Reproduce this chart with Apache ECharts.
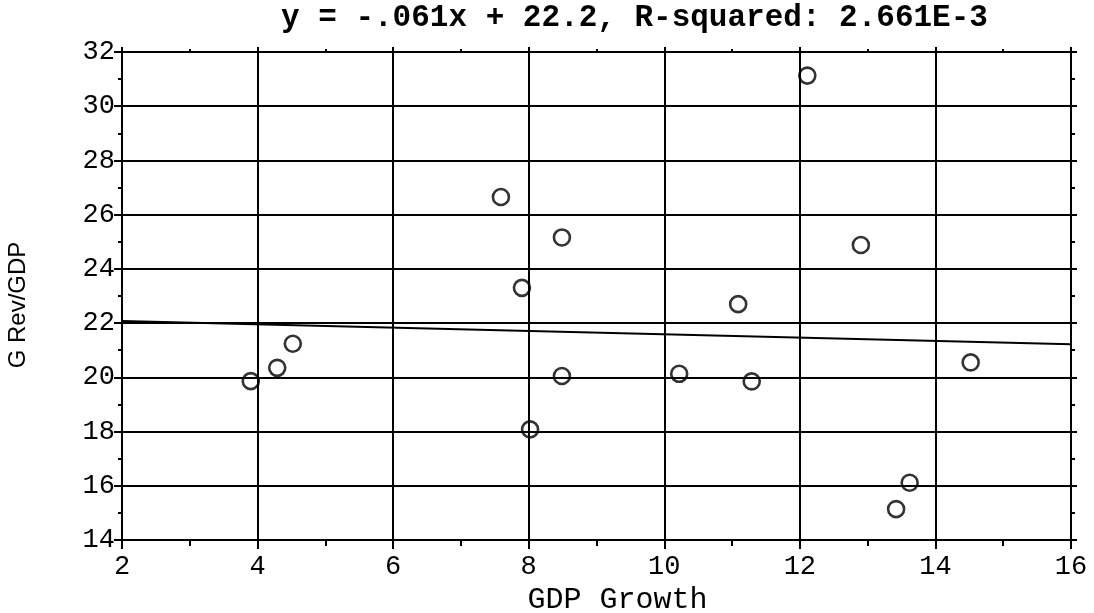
<!DOCTYPE html>
<html>
<head>
<meta charset="utf-8">
<style>
  html, body { margin: 0; padding: 0; background: #fff; }
  #chart { width: 1094px; height: 613px; }
</style>
<script src="https://cdn.jsdelivr.net/npm/echarts@6/dist/echarts.min.js"></script>
</head>
<body>
<div id="chart"></div>
<script>
// GDP growth (%) against government revenue as a share of GDP (%)
const gdpGrowth  = [3.90, 4.29, 4.52, 7.59, 7.90, 8.02, 8.49, 8.49, 10.22, 11.09, 11.29, 12.11, 12.90, 13.42, 13.62, 14.52];
const govRevenue = [19.86, 20.35, 21.24, 26.65, 23.30, 18.08, 25.16, 20.05, 20.13, 22.70, 19.85, 31.13, 24.88, 15.14, 16.11, 20.55];

// Least-squares fit as reported in the heading
const fitSlope = -0.061;
const fitIntercept = 22.2;
const fitLabel = 'y = -.061x + 22.2, R-squared: 2.661E-3';

// Axis ranges
const xRange = [2, 16];
const yRange = [14, 32];

const points = gdpGrowth.map((x, i) => [x, govRevenue[i]]);
const fitLine = xRange.map(x => [x, fitSlope * x + fitIntercept]);

const MONO = "'Liberation Mono', 'Courier New', monospace";
const SANS = "'Liberation Sans', Arial, sans-serif";
const INK = '#000';

function frameAxis(base, extra) {
  return Object.assign({
    type: 'value',
    interval: 2,
    axisLine: { show: true, onZero: false, lineStyle: { color: INK, width: 2 } },
    splitLine: { show: true, lineStyle: { color: INK, width: 2 } },
    minorSplitLine: { show: false }
  }, base, extra);
}

const chart = echarts.init(document.getElementById('chart'), null, { renderer: 'canvas' });
chart.setOption({
  animation: false,
  backgroundColor: '#fff',
  title: {
    text: fitLabel,
    left: 281,
    top: 3,
    padding: 0,
    textStyle: { fontFamily: MONO, fontWeight: 'bold', fontSize: 31, color: INK }
  },
  grid: { left: 122, top: 52, right: 23, bottom: 73, containLabel: false, outerBoundsMode: 'none' },
  xAxis: [
    frameAxis({ min: xRange[0], max: xRange[1] }, {
      position: 'bottom',
      name: 'GDP Growth',
      nameLocation: 'middle',
      nameGap: 40,
      nameTextStyle: { fontFamily: MONO, fontSize: 30, color: INK, padding: [0, 0, 0, 42] },
      axisTick: { show: true, inside: false, length: 9, lineStyle: { color: INK, width: 2 } },
      minorTick: { show: true, splitNumber: 2, length: 6, lineStyle: { color: INK, width: 2 } },
      axisLabel: { show: true, margin: 13, fontFamily: MONO, fontSize: 27, color: INK }
    }),
    frameAxis({ min: xRange[0], max: xRange[1] }, {
      position: 'top',
      axisTick: { show: true, inside: false, length: 5, lineStyle: { color: INK, width: 2 } },
      minorTick: { show: true, splitNumber: 2, length: 3, lineStyle: { color: INK, width: 2 } },
      axisLabel: { show: false }
    })
  ],
  yAxis: [
    frameAxis({ min: yRange[0], max: yRange[1] }, {
      position: 'left',
      name: 'G Rev/GDP',
      nameLocation: 'middle',
      nameGap: 92,
      nameTextStyle: { fontFamily: SANS, fontSize: 24, color: INK, padding: [0, 18, 0, 0] },
      axisTick: { show: true, inside: false, length: 8, lineStyle: { color: INK, width: 2 } },
      minorTick: { show: true, splitNumber: 2, length: 4, lineStyle: { color: INK, width: 2 } },
      axisLabel: { show: true, margin: 7, fontFamily: MONO, fontSize: 27, color: INK }
    }),
    frameAxis({ min: yRange[0], max: yRange[1] }, {
      position: 'right',
      axisTick: { show: true, inside: false, length: 6, lineStyle: { color: INK, width: 2 } },
      minorTick: { show: true, splitNumber: 2, length: 4, lineStyle: { color: INK, width: 2 } },
      axisLabel: { show: false }
    })
  ],
  series: [
    {
      name: 'Fit',
      type: 'line',
      data: fitLine,
      showSymbol: false,
      symbol: 'none',
      lineStyle: { color: INK, width: 2 },
      z: 3
    },
    {
      name: 'Observations',
      type: 'scatter',
      data: points,
      symbol: 'circle',
      symbolSize: 16,
      itemStyle: { color: 'rgba(0,0,0,0)', borderColor: INK, borderWidth: 2.6 },
      z: 4
    }
  ]
});
</script>
</body>
</html>
